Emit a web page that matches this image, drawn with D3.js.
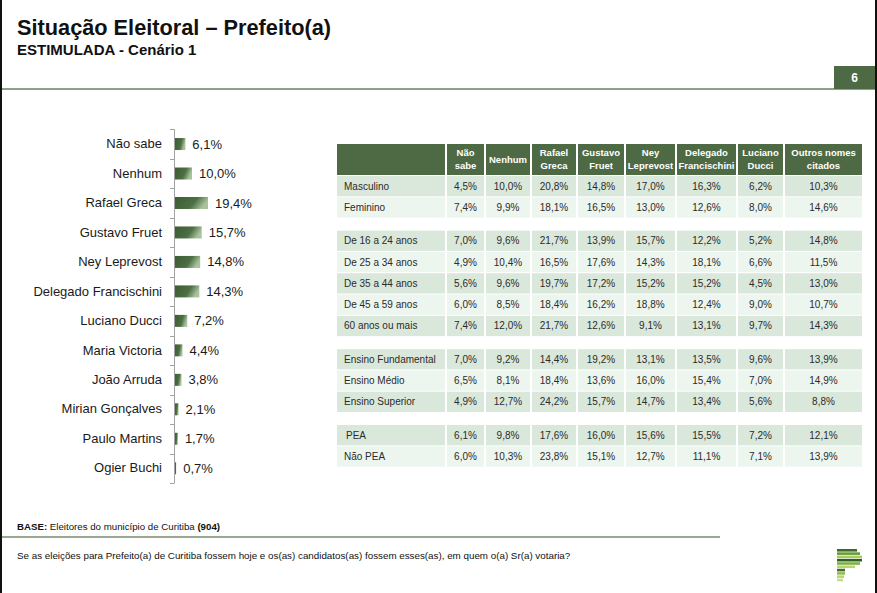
<!DOCTYPE html>
<html><head><meta charset="utf-8">
<script src="https://cdn.jsdelivr.net/npm/d3@7"></script>
<style>
body{margin:0;background:#fff;}
svg{display:block;font-family:"Liberation Sans",Arial,sans-serif;}
</style>
</head><body>
<svg id="c" width="877" height="593"></svg>
<script>
// ---------- data ----------
const candidates = ["Não sabe","Nenhum","Rafael Greca","Gustavo Fruet","Ney Leprevost","Delegado Francischini","Luciano Ducci","Maria Victoria","João Arruda","Mirian Gonçalves","Paulo Martins","Ogier Buchi"];
const candidateValues = [6.1,10.0,19.4,15.7,14.8,14.3,7.2,4.4,3.8,2.1,1.7,0.7];

const tableColumns = ["Não sabe","Nenhum","Rafael Greca","Gustavo Fruet","Ney Leprevost","Delegado Francischini","Luciano Ducci","Outros nomes citados"];
const headerLines = [["Não","sabe"],["Nenhum"],["Rafael","Greca"],["Gustavo","Fruet"],["Ney","Leprevost"],["Delegado","Francischini"],["Luciano","Ducci"],["Outros nomes","citados"]];

const sexoLabels = ["Masculino","Feminino"];
const sexoValues = [
  [4.5,10.0,20.8,14.8,17.0,16.3,6.2,10.3],
  [7.4,9.9,18.1,16.5,13.0,12.6,8.0,14.6]
];
const idadeLabels = ["De 16 a 24 anos","De 25 a 34 anos","De 35 a 44 anos","De 45 a 59 anos","60 anos ou mais"];
const idadeValues = [
  [7.0,9.6,21.7,13.9,15.7,12.2,5.2,14.8],
  [4.9,10.4,16.5,17.6,14.3,18.1,6.6,11.5],
  [5.6,9.6,19.7,17.2,15.2,15.2,4.5,13.0],
  [6.0,8.5,18.4,16.2,18.8,12.4,9.0,10.7],
  [7.4,12.0,21.7,12.6,9.1,13.1,9.7,14.3]
];
const escolaridadeLabels = ["Ensino Fundamental","Ensino Médio","Ensino Superior"];
const escolaridadeValues = [
  [7.0,9.2,14.4,19.2,13.1,13.5,9.6,13.9],
  [6.5,8.1,18.4,13.6,16.0,15.4,7.0,14.9],
  [4.9,12.7,24.2,15.7,14.7,13.4,5.6,8.8]
];
const peaLabels = ["PEA","Não PEA"];
const peaValues = [
  [6.1,9.8,17.6,16.0,15.6,15.5,7.2,12.1],
  [6.0,10.3,23.8,15.1,12.7,11.1,7.1,13.9]
];

// ---------- setup ----------
const svg = d3.select("#c");
const fmt = v => d3.format(".1f")(v).replace(".", ",") + "%";
const darkGreen = "#4e6a45";

// frame borders
svg.append("rect").attr("x",0).attr("y",0).attr("width",2).attr("height",593).attr("fill","#111");
svg.append("rect").attr("x",875).attr("y",0).attr("width",2).attr("height",593).attr("fill","#111");

// title
svg.append("text").attr("x",17).attr("y",35).attr("font-size",22).attr("font-weight","bold")
  .attr("fill","#111").attr("textLength",314).attr("lengthAdjust","spacingAndGlyphs")
  .text("Situação Eleitoral – Prefeito(a)");
svg.append("text").attr("x",17).attr("y",55).attr("font-size",15).attr("font-weight","bold")
  .attr("fill","#111").text("ESTIMULADA - Cenário 1");

// header line + page number box
svg.append("rect").attr("x",2).attr("y",88).attr("width",873).attr("height",2).attr("fill","#8fa086");
svg.append("rect").attr("x",834).attr("y",66).attr("width",41).attr("height",23).attr("fill",darkGreen);
svg.append("text").attr("x",854.5).attr("y",82).attr("text-anchor","middle").attr("font-size",12)
  .attr("font-weight","bold").attr("fill","#fff").text("6");

// ---------- bar chart ----------
const defs = svg.append("defs");
const grad = defs.append("linearGradient").attr("id","barGrad").attr("x1","0").attr("x2","1").attr("y1","0").attr("y2","0.3");
grad.append("stop").attr("offset","0%").attr("stop-color","#3c5c33");
grad.append("stop").attr("offset","65%").attr("stop-color","#4d6f43");
grad.append("stop").attr("offset","100%").attr("stop-color","#a9c29d");

const yBar = d3.scaleBand().domain(candidates).range([129.3, 483]);
const xBar = d3.scaleLinear().domain([0, 20]).range([175, 209]);
const barH = 12;
const axisX = 174;

const yAxis = d3.axisLeft(yBar).tickSize(0).tickPadding(12);
const gAxis = svg.append("g").attr("transform",`translate(${axisX},0)`).call(yAxis);
gAxis.select(".domain").remove();
gAxis.selectAll("text").attr("font-size",13).attr("fill","#1a1a1a")
  .attr("font-family","'Liberation Sans',Arial,sans-serif");

// axis line and boundary ticks
svg.append("line").attr("x1",axisX+0.5).attr("x2",axisX+0.5)
  .attr("y1",yBar.range()[0]).attr("y2",yBar.range()[1]).attr("stroke","#a3a3a3");
const bounds = candidates.map(c => yBar(c)).concat([yBar.range()[1]]);
svg.selectAll(".btick").data(bounds).join("line").attr("class","btick")
  .attr("x1",axisX-4).attr("x2",axisX+0.5).attr("y1",d=>Math.round(d)+0.5).attr("y2",d=>Math.round(d)+0.5)
  .attr("stroke","#a3a3a3");

svg.selectAll(".bar").data(candidates).join("rect").attr("class","bar")
  .attr("x", xBar(0))
  .attr("y", c => yBar(c) + (yBar.bandwidth()-barH)/2)
  .attr("width", (c,i) => xBar(candidateValues[i]) - xBar(0))
  .attr("height", barH)
  .attr("fill","url(#barGrad)");

svg.selectAll(".vlabel").data(candidates).join("text").attr("class","vlabel")
  .attr("x",(c,i) => xBar(candidateValues[i]) + 7)
  .attr("y", c => yBar(c) + yBar.bandwidth()/2)
  .attr("dy","0.35em").attr("font-size",13).attr("fill","#1a1a1a")
  .text((c,i) => fmt(candidateValues[i]));

// ---------- table ----------
const labelColX = 337, labelColW = 108, colGap = 2;
const colWidths = [37,44,44,46,49,59,45,77];
const colStarts = [];
{ let x = labelColX + labelColW + colGap;
  colWidths.forEach(w => { colStarts.push(x); x += w + colGap; }); }
const xCol = d3.scaleOrdinal().domain(tableColumns).range(colStarts);
const wCol = d3.scaleOrdinal().domain(tableColumns).range(colWidths);

const groups = [
  {labels: sexoLabels, values: sexoValues},
  {labels: idadeLabels, values: idadeValues},
  {labels: escolaridadeLabels, values: escolaridadeValues},
  {labels: peaLabels, values: peaValues}
];
const rowPitch = 21.3, groupGap = 12, headerTop = 144, headerH = 31;
const rows = [];
{ let y = headerTop + headerH + 1;
  groups.forEach(g => {
    g.labels.forEach((lab, i) => { rows.push({label: lab, values: g.values[i], shade: i % 2, y}); y += rowPitch; });
    y += groupGap;
  });
}
const yRow = d3.scaleOrdinal().domain(rows.map(r=>r.label)).range(rows.map(r=>r.y));

// header
const gHead = svg.append("g");
gHead.append("rect").attr("x",labelColX).attr("y",headerTop).attr("width",labelColW).attr("height",headerH).attr("fill",darkGreen);
tableColumns.forEach((col, ci) => {
  gHead.append("rect").attr("x",xCol(col)).attr("y",headerTop).attr("width",wCol(col)).attr("height",headerH).attr("fill",darkGreen);
  const lines = headerLines[ci];
  const cx = xCol(col) + wCol(col)/2;
  const t = gHead.append("text").attr("text-anchor","middle").attr("font-size",9.5).attr("font-weight","bold").attr("fill","#fff");
  if (lines.length === 1) {
    t.append("tspan").attr("x",cx).attr("y",headerTop + headerH/2 + 3.5).text(lines[0]);
  } else {
    t.append("tspan").attr("x",cx).attr("y",headerTop + 12).text(lines[0]);
    t.append("tspan").attr("x",cx).attr("y",headerTop + 24.5).text(lines[1]);
  }
});

// body
const shades = ["#dae8dc","#edf5ef"];
const cellH = rowPitch - 1;
const gRows = svg.selectAll(".row").data(rows).join("g").attr("class","row")
  .attr("transform", r => `translate(0,${yRow(r.label)})`);
gRows.append("rect").attr("x",labelColX).attr("y",0).attr("width",labelColW).attr("height",cellH)
  .attr("fill", r => shades[r.shade]);
gRows.append("text").attr("x", r => labelColX + (r.label === "PEA" ? 9 : 7)).attr("y", cellH/2 + 3.5)
  .attr("font-size",10).attr("fill","#2b2b2b").text(r => r.label);
gRows.each(function(r){
  const g = d3.select(this);
  const cells = tableColumns.map((c,i)=>({col:c, v:r.values[i]}));
  g.selectAll(".cell").data(cells).join("rect").attr("class","cell")
    .attr("x", d => xCol(d.col)).attr("y",0).attr("width", d => wCol(d.col)).attr("height",cellH)
    .attr("fill", shades[r.shade]);
  g.selectAll(".ctext").data(cells).join("text").attr("class","ctext")
    .attr("x", d => xCol(d.col) + wCol(d.col)/2).attr("y", cellH/2 + 3.5)
    .attr("text-anchor","middle").attr("font-size",10).attr("fill","#2b2b2b")
    .text(d => fmt(d.v));
});

// ---------- footer ----------
const base = svg.append("text").attr("x",17).attr("y",530).attr("font-size",9.7).attr("fill","#111");
base.append("tspan").attr("font-weight","bold").text("BASE:");
base.append("tspan").text(" Eleitores do município de Curitiba ");
base.append("tspan").attr("font-weight","bold").text("(904)");

svg.append("rect").attr("x",2).attr("y",536).attr("width",718).attr("height",2).attr("fill","#9aa890");

svg.append("text").attr("x",17).attr("y",559).attr("font-size",9.8).attr("fill","#111")
  .text("Se as eleições para Prefeito(a) de Curitiba fossem hoje e os(as) candidatos(as) fossem esses(as), em quem o(a) Sr(a) votaria?");

// logo (decorative stripes)
const logoStripes = [[20,"#3d6b2a"],[23,"#6a9a3a"],[25,"#a8cc58"],[25,"#2f5e25"],[23,"#7fae45"],[18,"#b6d66a"],[8,"#3f6d2b"],[8,"#94bb52"],[7,"#b9d771"],[6,"#c5de85"]];
const gLogo = svg.append("g").attr("transform","translate(837,549)");
logoStripes.forEach((s,i)=>{
  gLogo.append("rect").attr("x",0).attr("y",i*3.3).attr("width",s[0]).attr("height",2.6).attr("fill",s[1]);
});
</script>
</body></html>
